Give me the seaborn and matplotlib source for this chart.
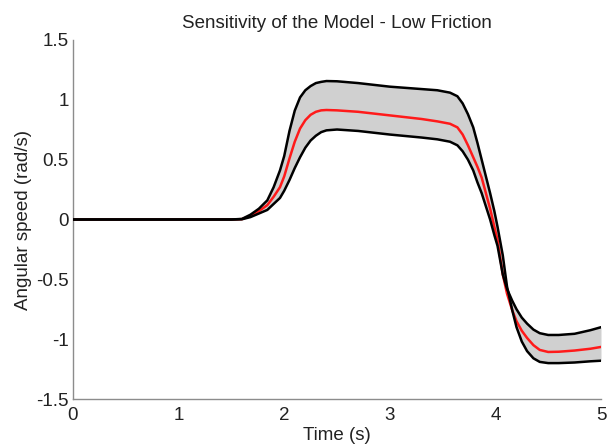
import numpy as np
import pandas as pd
import matplotlib
matplotlib.use("Agg")
import matplotlib.pyplot as plt
import seaborn as sns

# Time points (s) and values
time = [0.0, 1.0, 1.5, 1.6, 1.68, 1.76, 1.84, 1.90, 1.96, 2.0, 2.05, 2.10, 2.15, 2.20, 2.25,
        2.30, 2.35, 2.40, 2.50, 2.70, 3.00, 3.30, 3.45, 3.57, 3.64, 3.69, 3.74, 3.79, 3.83,
        3.87, 3.91, 3.95, 3.99, 4.02, 4.07, 4.11, 4.16, 4.20, 4.25, 4.30, 4.36,
        4.42, 4.50, 4.60, 4.75, 4.90, 5.0]

upper_band = [0.0, 0.0, 0.0, 0.005, 0.04, 0.09, 0.16, 0.27, 0.41, 0.53, 0.74, 0.91, 1.02, 1.08, 1.115,
              1.14, 1.15, 1.157, 1.155, 1.14, 1.11, 1.09, 1.08, 1.06, 1.03, 0.97, 0.88, 0.77, 0.64,
              0.50, 0.36, 0.22, 0.07, -0.06, -0.30, -0.56, -0.76, -0.90, -1.02, -1.10, -1.16,
              -1.19, -1.20, -1.20, -1.195, -1.185, -1.18]

red_mean = [0.0, 0.0, 0.0, 0.003, 0.03, 0.07, 0.12, 0.19, 0.27, 0.36, 0.51, 0.65, 0.76, 0.83, 0.875,
            0.90, 0.912, 0.915, 0.912, 0.90, 0.87, 0.84, 0.82, 0.80, 0.77, 0.71, 0.62, 0.52, 0.44,
            0.35, 0.22, 0.09, -0.06, -0.17, -0.46, -0.62, -0.76, -0.85, -0.93, -0.99, -1.05,
            -1.09, -1.107, -1.105, -1.095, -1.08, -1.065]

lower_band = [0.0, 0.0, 0.0, 0.002, 0.02, 0.05, 0.08, 0.13, 0.18, 0.24, 0.33, 0.43, 0.52, 0.60, 0.66,
              0.70, 0.73, 0.745, 0.752, 0.74, 0.71, 0.685, 0.67, 0.65, 0.62, 0.57, 0.50, 0.41, 0.31,
              0.22, 0.11, 0.0, -0.13, -0.22, -0.46, -0.58, -0.68, -0.75, -0.82, -0.87, -0.92,
              -0.95, -0.965, -0.965, -0.955, -0.925, -0.90]

df = pd.DataFrame({"time": time, "upper": upper_band, "mean": red_mean, "lower": lower_band})

sns.set_style("white")
plt.rcParams["font.family"] = ["Liberation Sans", "DejaVu Sans"]

fig = plt.figure(figsize=(6.12, 4.45), dpi=100)
ax = fig.add_axes([73 / 612, 1 - 399 / 445, 528 / 612, 359 / 445])

ax.fill_between(df["time"], df["lower"], df["upper"], color="#d0d0d0", linewidth=0, zorder=1)
sns.lineplot(data=df, x="time", y="mean", ax=ax, color="#ff1a1a", linewidth=1.8, zorder=3)
sns.lineplot(data=df, x="time", y="upper", ax=ax, color="black", linewidth=1.8, zorder=4)
sns.lineplot(data=df, x="time", y="lower", ax=ax, color="black", linewidth=1.8, zorder=4)

ax.set_xlim(0, 5)
ax.set_ylim(-1.5, 1.5)
ax.set_xticks([0, 1, 2, 3, 4, 5])
ax.set_xticklabels(["0", "1", "2", "3", "4", "5"])
ax.set_yticks([-1.5, -1, -0.5, 0, 0.5, 1, 1.5])
ax.set_yticklabels(["-1.5", "-1", "-0.5", "0", "0.5", "1", "1.5"])

for s in ["top", "right"]:
    ax.spines[s].set_visible(False)
for s in ["left", "bottom"]:
    ax.spines[s].set_color("#8c8c8c")
    ax.spines[s].set_linewidth(1.0)

ax.tick_params(axis="both", direction="in", length=4, width=0.8, color="#8c8c8c",
               labelsize=13.5, labelcolor="#222222", pad=3)
ax.tick_params(axis="x", pad=6)

ax.set_xlabel("Time (s)", fontsize=13.5, color="#222222", labelpad=2)
ax.set_ylabel("Angular speed (rad/s)", fontsize=13.5, color="#222222", labelpad=3)
ax.set_title("Sensitivity of the Model - Low Friction", fontsize=13.5, color="#222222", pad=9)

fig.savefig("out.png", dpi=100)
